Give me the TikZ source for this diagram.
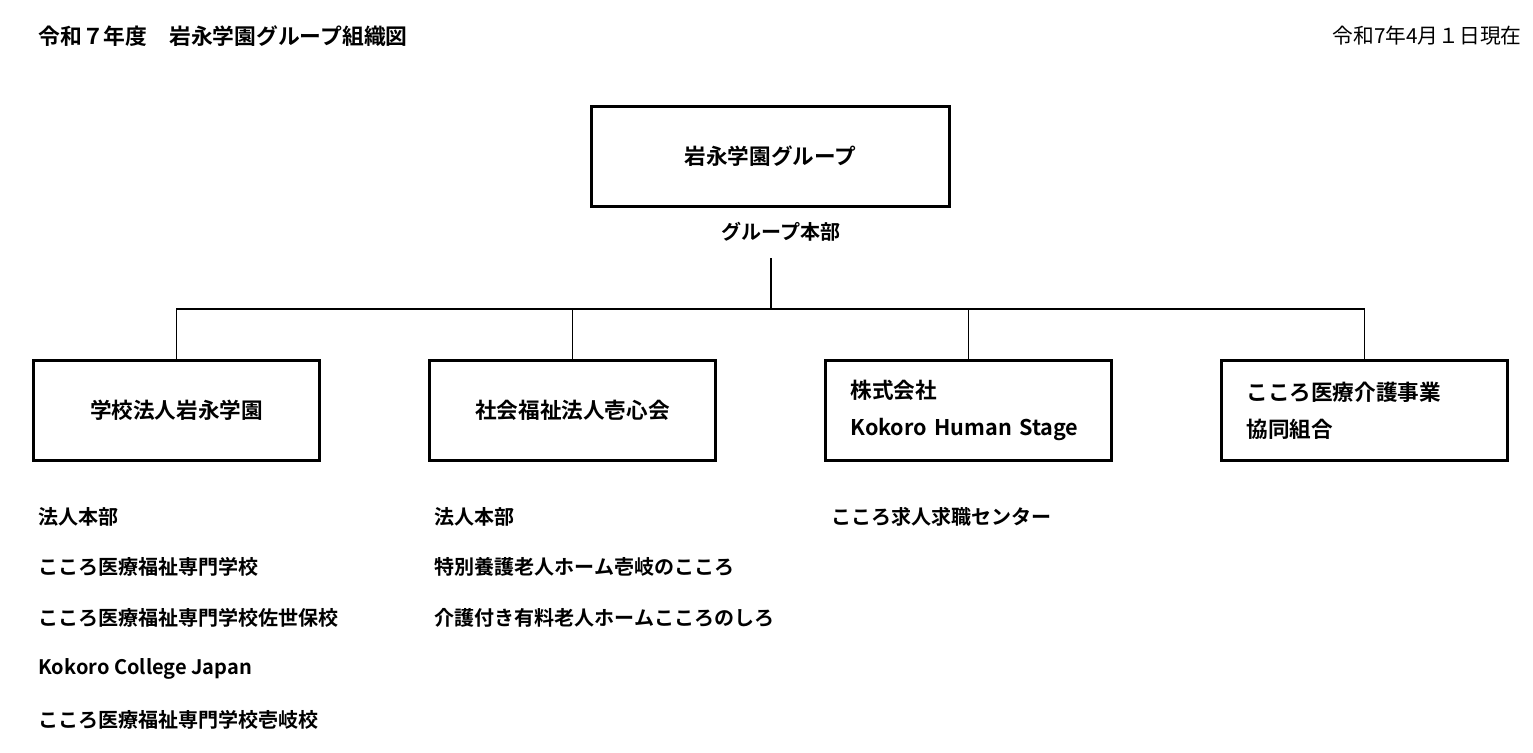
\documentclass[tikz,border=0pt]{standalone}
\usepackage{fontspec}
\setmainfont{Noto Sans CJK JP}
\newfontfamily\jpbold{Noto Sans CJK JP Bold}
\begin{document}
\begin{tikzpicture}[x=0.02cm, y=-0.02cm, line width=0.6pt,
  txt/.style={font=\jpbold\fontsize{11.4}{21}\selectfont, inner sep=0pt},
  org box/.style={draw, line width=1.7pt, minimum width=5.72cm, minimum height=2cm, inner sep=0pt, font=\jpbold\fontsize{12.3}{21}\selectfont},
  left box/.style={org box, text width=4.72cm, inner xsep=0.5cm, align=left}]
\useasboundingbox (0,0) rectangle (1533,752);
\begin{scope}
\node[txt, anchor=west, font=\jpbold\fontsize{12.4}{21}\selectfont] (title) at (38,36) {令和７年度　岩永学園グループ組織図};
\node[inner sep=0pt, anchor=east, font=\fontsize{11.8}{14}\selectfont] (date) at (1522,36) {令和7年4月１日現在};
\node[org box, minimum width=7.16cm] (g) at (770.5,156.5) {岩永学園グループ};
\node[txt] (hq) at (781,232) {グループ本部};
\coordinate (hqb) at (771,258);
\coordinate (bus) at (771,309);
\node[org box] (o1) at (176.5,410.5) {学校法人岩永学園};
\node[org box] (o2) at (572.5,410.5) {社会福祉法人壱心会};
\node[left box] (o3) at (968.5,410.5) {株式会社\\Kokoro Human Stage};
\node[left box] (o4) at (1364.5,410.5) {こころ医療介護事業\\協同組合};
\end{scope}
\begin{scope}
\draw (hqb) -- (bus);
\draw (o1.north) |- (bus) -| (o4.north);
\draw (o2.north) -- (o2.north |- bus);
\draw (o3.north) -- (o3.north |- bus);
\end{scope}
\begin{scope}[every node/.style={txt, anchor=west}]
\node (l11) at (38,517) {法人本部};
\node (l12) at (38,567) {こころ医療福祉専門学校};
\node (l13) at (38,618) {こころ医療福祉専門学校佐世保校};
\node (l14) at (38,669) {Kokoro College Japan};
\node (l15) at (38,720) {こころ医療福祉専門学校壱岐校};
\node (l21) at (434,517) {法人本部};
\node (l22) at (434,567) {特別養護老人ホーム壱岐のこころ};
\node (l23) at (434,618) {介護付き有料老人ホームこころのしろ};
\node (l31) at (831,517) {こころ求人求職センター};
\end{scope}
\end{tikzpicture}
\end{document}
